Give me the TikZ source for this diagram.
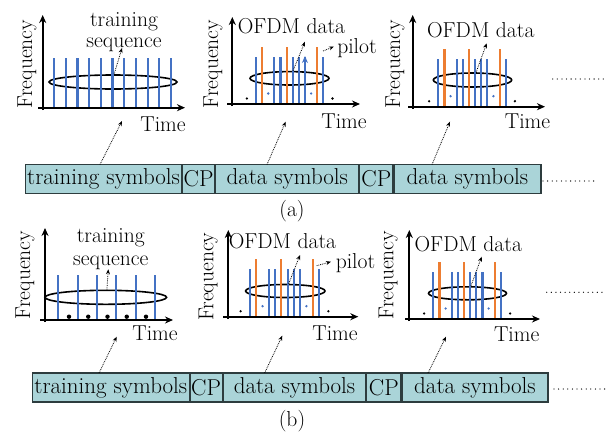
\documentclass[tikz,border=0pt]{standalone}
\usetikzlibrary{arrows.meta,shapes.geometric}
\definecolor{bl}{RGB}{68,114,196}
\definecolor{org}{RGB}{237,125,49}
\definecolor{cellfill}{RGB}{170,212,216}
\definecolor{celldraw}{RGB}{45,60,62}
\newcommand\ofdmbars[3]{%
  \begin{scope}[shift={(#1,#2)}]
    \foreach \i in {0,3,4,6,7,8,11} \draw[bline] (\i*#3,0) -- (\i*#3,-47.5);
    \foreach \i in {1,5,10} \draw[oline] (\i*#3,0) -- (\i*#3,-57.5);
    \foreach \i in {2,9} \fill[bl] (\i*#3,-10.5) circle[radius=1.3pt];
    \foreach \i in {-1.5,12.5} \fill (\i*#3,-5.5) circle[radius=1.3pt];
  \end{scope}}
\begin{document}
\begin{tikzpicture}[x=1pt,y=-1pt,
  lbl/.style={font=\fontsize{21.6}{24}\selectfont, inner sep=0pt},
  cell/.style={draw=celldraw, fill=cellfill, line width=1.1pt, minimum height=29pt,
     inner sep=0pt, anchor=west, font=\fontsize{23}{24}\selectfont},
  axis/.style={line width=2pt, -{Stealth[length=8pt,width=7pt]}},
  bline/.style={bl, line width=2.2pt},
  oline/.style={org, line width=2.2pt},
  ell/.style={ellipse, draw, line width=1.6pt, inner sep=0pt},
  dotarrow/.style={densely dotted, line width=0.8pt, -{Stealth[length=5pt,width=4pt]}},
  moredots/.style={line width=1.3pt, dash pattern=on 0pt off 4.6pt, line cap=round},
]
\useasboundingbox (0,0) rectangle (610,437);

% ================= (a) =================
% plot a1
\node[ell, minimum width=128pt, minimum height=14pt] (ea1) at (113,82) {};
\foreach \i in {0,...,10} \draw[bline] (54+\i*11.7,107.7) -- (54+\i*11.7,58);
\draw[axis] (42.7,110) -- (42.7,15);
\draw[axis] (38,107.7) -- (185,107.7);
\node[lbl, rotate=90] (fa1) at (27,64) {Frequency};
\node[lbl, anchor=base] (tra1) at (124,26.8) {training};
\node[lbl, anchor=base] (sqa1) at (124,47.5) {sequence};
\node[lbl, anchor=base] (tia1) at (163,131.7) {Time};
\coordinate (pa1) at (122,48);
\draw[dotarrow] (ea1.82) -- (pa1);

% plot a2
\node[ell, minimum width=79pt, minimum height=13.4pt] (ea2) at (289.5,78.3) {};
\ofdmbars{256}{104}{6.12}
\draw[bl, line width=1pt, -{Stealth[length=7pt,width=6pt]}] (256+8*6.12,70) -- (256+8*6.12,56);
\draw[axis] (232.3,106) -- (232.3,17);
\draw[axis] (227,104) -- (360,104);
\node[lbl, rotate=90] (fa2) at (213,64) {Frequency};
\node[lbl, anchor=base] (oa2) at (291.5,33.3) {OFDM data};
\node[lbl, anchor=base] (pla2) at (357,53.3) {pilot};
\node[lbl, anchor=base] (tia2) at (344,128.3) {Time};
\coordinate (qa2) at (305,41.7);
\coordinate (sa2) at (323,51);
\coordinate (ra2) at (334,46.5);
\draw[dotarrow] (ea2.65) -- (qa2);
\draw[dotarrow] (sa2) -- (ra2);

% plot a3
\node[ell, minimum width=78.4pt, minimum height=14pt] (ea3) at (472.5,80) {};
\ofdmbars{438.3}{106.7}{6.13}
\draw[axis] (412.7,109) -- (412.7,15);
\draw[axis] (408.3,106.7) -- (545,106.7);
\node[lbl, rotate=90] (fa3) at (395,64) {Frequency};
\node[lbl, anchor=base] (oa3) at (480.8,37.3) {OFDM data};
\node[lbl, anchor=base] (tia3) at (527.5,128.3) {Time};
\coordinate (qa3) at (486.7,43.3);
\draw[dotarrow] (ea3.65) -- (qa3);
\draw[moredots] (552.7,79) -- (607.3,79);

% symbol row a
\node[cell, minimum width=156pt] (tsa) at (25,179) {training symbols};
\node[cell, minimum width=32pt] (cpa1) at (tsa.east) {CP};
\node[cell, minimum width=143pt] (dsa1) at (cpa1.east) {data symbols};
\node[cell, minimum width=33pt] (cpa2) at (dsa1.east) {CP};
\node[cell, minimum width=147pt] (dsa2) at (cpa2.east) {data symbols};
\draw[moredots] (543,181) -- (597,181);
\node[lbl] (capa) at (292,211) {(a)};
\coordinate (ba1) at (100,164.5);
\coordinate (ka1) at (122,121);
\coordinate (ba2) at (267,164.5);
\coordinate (ka2) at (285.7,121.7);
\coordinate (ba3) at (432,164.5);
\coordinate (ka3) at (450,121.7);
\draw[dotarrow] (ba1) -- (ka1);
\draw[dotarrow] (ba2) -- (ka2);
\draw[dotarrow] (ba3) -- (ka3);

% ================= (b) =================
% plot b1
\node[ell, minimum width=121.6pt, minimum height=14pt] (eb1) at (105.8,297.3) {};
\foreach \i in {0,...,5} \draw[bline] (58.3+\i*19.34,320) -- (58.3+\i*19.34,275);
\foreach \i in {0,...,4} \fill (69+\i*19.25,316.7) circle[radius=2.2pt];
\draw[axis] (45,322) -- (45,228);
\draw[axis] (40,320) -- (173,320);
\node[lbl, rotate=90] (fb1) at (25,275) {Frequency};
\node[lbl, anchor=base] (trb1) at (110.8,242.3) {training};
\node[lbl, anchor=base] (sqb1) at (110.8,265.5) {sequence};
\node[lbl, anchor=base] (tib1) at (155,340) {Time};
\coordinate (pb1) at (108.3,269.3);
\draw[dotarrow] (eb1.82) -- (pb1);

% plot b2
\node[ell, minimum width=79.4pt, minimum height=13pt] (eb2) at (285.3,291) {};
\ofdmbars{250}{316.7}{6.27}
\draw[axis] (228.3,319) -- (228.3,230);
\draw[axis] (223.3,316.7) -- (358.3,316.7);
\node[lbl, rotate=90] (fb2) at (208.3,276.7) {Frequency};
\node[lbl, anchor=base] (ob2) at (282.5,248.3) {OFDM data};
\node[lbl, anchor=base] (plb2) at (355.5,268.3) {pilot};
\node[lbl, anchor=base] (tib2) at (335,340) {Time};
\coordinate (qb2) at (300,255);
\coordinate (sb2) at (316.7,265.7);
\coordinate (rb2) at (331,261.7);
\draw[dotarrow] (eb2.65) -- (qb2);
\draw[dotarrow] (sb2) -- (rb2);

% plot b3
\node[ell, minimum width=78pt, minimum height=13pt] (eb3) at (467.5,293.3) {};
\ofdmbars{433.3}{319}{6.15}
\draw[axis] (409.3,321) -- (409.3,230);
\draw[axis] (405,319) -- (540,319);
\node[lbl, rotate=90] (fb3) at (388.3,275) {Frequency};
\node[lbl, anchor=base] (ob3) at (468.3,251.7) {OFDM data};
\node[lbl, anchor=base] (tib3) at (516.7,341.7) {Time};
\coordinate (qb3) at (481.7,256.7);
\draw[dotarrow] (eb3.65) -- (qb3);
\draw[moredots] (546.7,292.3) -- (603.3,292.3);

% symbol row b
\node[cell, minimum width=156.5pt] (tsb) at (32,387.5) {training symbols};
\node[cell, minimum width=32pt] (cpb1) at (tsb.east) {CP};
\node[cell, minimum width=142.5pt] (dsb1) at (cpb1.east) {data symbols};
\node[cell, minimum width=34pt] (cpb2) at (dsb1.east) {CP};
\node[cell, minimum width=146pt] (dsb2) at (cpb2.east) {data symbols};
\draw[moredots] (554,389) -- (609,389);
\node[lbl] (capb) at (292,421) {(b)};
\coordinate (bb1) at (99,373);
\coordinate (kb1) at (116.7,336.7);
\coordinate (bb2) at (264.6,373);
\coordinate (kb2) at (282.3,335.7);
\coordinate (bb3) at (428,373);
\coordinate (kb3) at (446,336.7);
\draw[dotarrow] (bb1) -- (kb1);
\draw[dotarrow] (bb2) -- (kb2);
\draw[dotarrow] (bb3) -- (kb3);
\end{tikzpicture}
\end{document}
